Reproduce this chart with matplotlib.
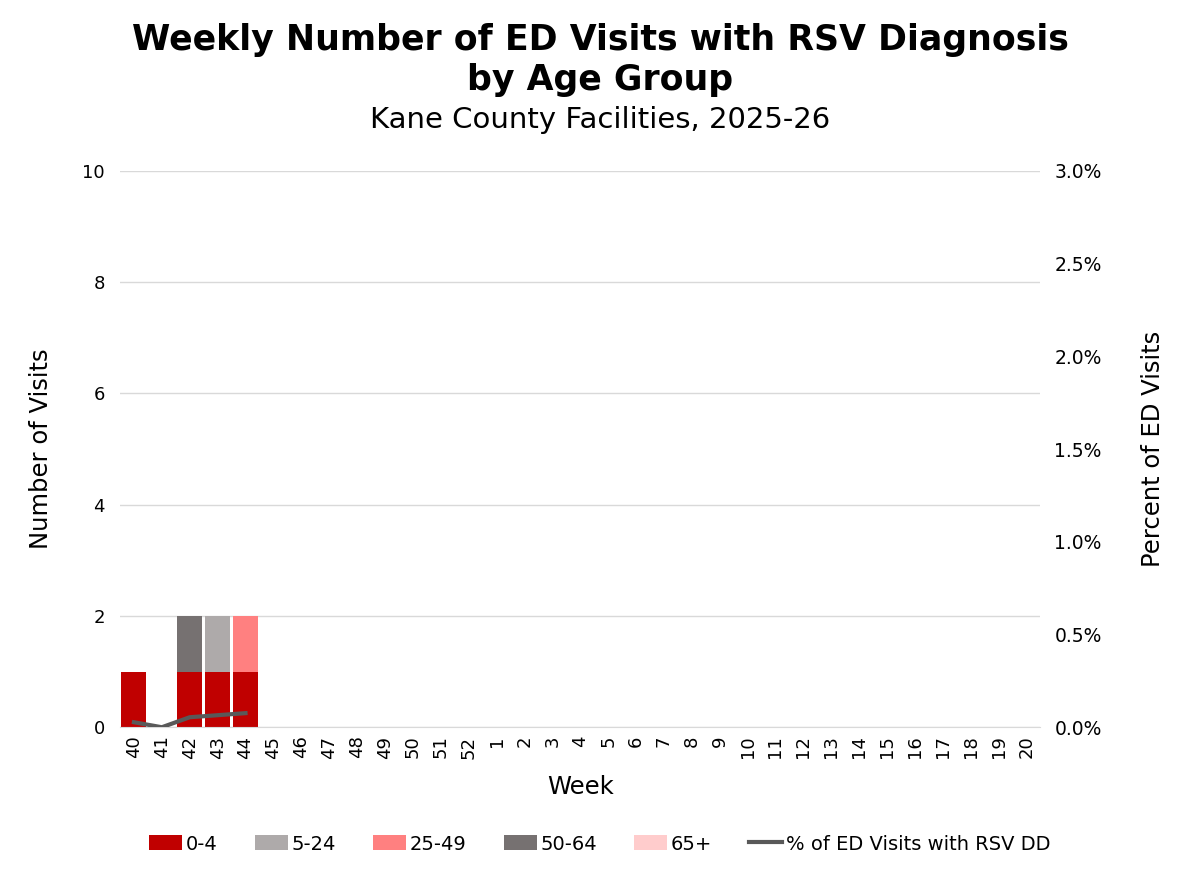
import numpy as np
import matplotlib.pyplot as plt

# Weekly data, MMWR weeks 40-52 then 1-20
weeks = [str(w) for w in list(range(40, 53)) + list(range(1, 21))]
age_0_4 = [1, 0, 1, 1, 1] + [0] * 28
age_5_24 = [0, 0, 0, 1, 0] + [0] * 28
age_25_49 = [0, 0, 0, 0, 1] + [0] * 28
age_50_64 = [0, 0, 1, 0, 0] + [0] * 28
age_65_plus = [0, 0, 0, 0, 0] + [0] * 28
pct_rsv = [0.027, 0.0, 0.054, 0.065, 0.076]  # percent, reported weeks only

groups = [
    ('0-4', age_0_4, '#C00000'),
    ('5-24', age_5_24, '#AEAAAA'),
    ('25-49', age_25_49, '#FF8080'),
    ('50-64', age_50_64, '#767171'),
    ('65+', age_65_plus, '#FFCCCC'),
]

plt.rcParams['font.family'] = ['DejaVu Sans']

fig, ax = plt.subplots(figsize=(12, 8.72), dpi=100)
fig.subplots_adjust(left=0.1, right=0.867, top=0.804, bottom=0.166)

x = np.arange(len(weeks))
bottom = np.zeros(len(weeks))
for label, vals, color in groups:
    vals = np.array(vals, dtype=float)
    ax.bar(x, vals, 0.9, bottom=bottom, color=color, label=label, zorder=2)
    bottom += vals

ax.set_xlim(-0.5, len(weeks) - 0.5)
ax.set_ylim(0, 10)
ax.set_yticks([0, 2, 4, 6, 8, 10])
ax.set_xticks(x)
ax.set_xticklabels(weeks, rotation=90, fontsize=13)
ax.tick_params(axis='y', labelsize=13, length=0, pad=11)
ax.tick_params(axis='x', length=0, pad=6)
ax.grid(axis='y', color='#D9D9D9', linewidth=1, zorder=0)
for s in ['top', 'right', 'left']:
    ax.spines[s].set_visible(False)
ax.spines['bottom'].set_color('#D9D9D9')
ax.set_xlabel('Week', fontsize=17.5, labelpad=12)
ax.set_ylabel('Number of Visits', fontsize=17.5, labelpad=21)

ax2 = ax.twinx()
ax2.plot(x[:len(pct_rsv)], pct_rsv, color='#595959', linewidth=3,
         label='% of ED Visits with RSV DD', zorder=3)
ax2.set_ylim(0, 3.0)
ax2.set_yticks([0, 0.5, 1.0, 1.5, 2.0, 2.5, 3.0])
ax2.set_yticklabels([f'{v:.1f}%' for v in ax2.get_yticks()])
ax2.tick_params(axis='y', labelsize=13.5, length=0, pad=10)
for s in ['top', 'right', 'left', 'bottom']:
    ax2.spines[s].set_visible(False)
ax2.set_ylabel('Percent of ED Visits', fontsize=17.5, labelpad=28)

fig.text(0.5, 0.974, 'Weekly Number of ED Visits with RSV Diagnosis\nby Age Group',
         ha='center', va='top', fontsize=25, fontweight='bold', linespacing=1.25)
fig.text(0.5, 0.862, 'Kane County Facilities, 2025-26', ha='center', va='center', fontsize=21)

h1, l1 = ax.get_legend_handles_labels()
h2, l2 = ax2.get_legend_handles_labels()
fig.legend(h1 + h2, l1 + l2, loc='center', bbox_to_anchor=(0.5, 0.032), ncol=6,
           frameon=False, fontsize=14, handlelength=1.7, handleheight=0.8,
           columnspacing=1.9, handletextpad=0.2)

plt.savefig('out.png')
